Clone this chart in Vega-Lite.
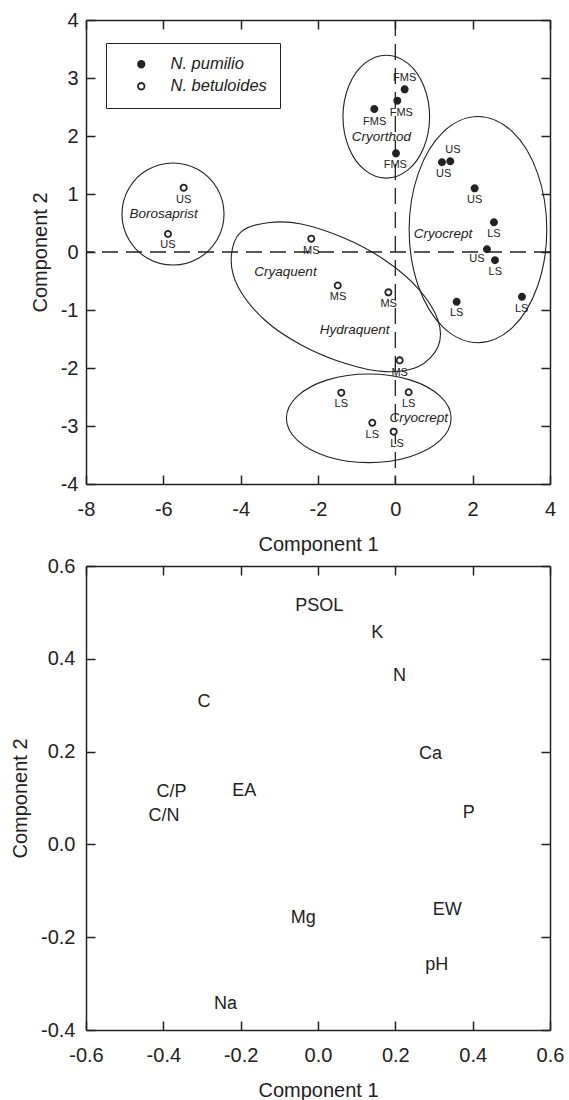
{
  "$schema": "https://vega.github.io/schema/vega-lite/v6.json",
  "background": "white",
  "padding": {"left": 10, "top": 10, "right": 10, "bottom": 0},
  "spacing": 2,
  "config": {
    "view": {"stroke": null},
    "font": "Liberation Sans",
    "locale": {"number": {"decimal": ".", "thousands": ",", "grouping": [3], "currency": ["$", ""], "minus": "-"}},
    "axis": {
      "grid": false,
      "domainColor": "#222",
      "domainWidth": 1.5,
      "tickColor": "#222",
      "tickWidth": 1.5,
      "tickSize": -9,
      "labelFont": "Liberation Sans",
      "labelFontSize": 20,
      "labelColor": "#222",
      "labelFlush": false,
      "labelOverlap": false,
      "titleFont": "Liberation Sans",
      "titleFontSize": 20,
      "titleFontWeight": "normal",
      "titleColor": "#222"
    }
  },
  "datasets": {
    "sites": [
      {"c1": 0.241, "c2": 2.805, "species": "N. pumilio", "site": "FMS"},
      {"c1": 0.051, "c2": 2.609, "species": "N. pumilio", "site": "FMS"},
      {"c1": -0.544, "c2": 2.466, "species": "N. pumilio", "site": "FMS"},
      {"c1": 0.017, "c2": 1.701, "species": "N. pumilio", "site": "FMS"},
      {"c1": 1.206, "c2": 1.547, "species": "N. pumilio", "site": "US"},
      {"c1": 1.421, "c2": 1.564, "species": "N. pumilio", "site": "US"},
      {"c1": 2.051, "c2": 1.098, "species": "N. pumilio", "site": "US"},
      {"c1": 2.551, "c2": 0.512, "species": "N. pumilio", "site": "LS"},
      {"c1": 2.37, "c2": 0.047, "species": "N. pumilio", "site": "US"},
      {"c1": 2.577, "c2": -0.143, "species": "N. pumilio", "site": "LS"},
      {"c1": 1.586, "c2": -0.857, "species": "N. pumilio", "site": "LS"},
      {"c1": 3.275, "c2": -0.771, "species": "N. pumilio", "site": "LS"},
      {"c1": -5.474, "c2": 1.109, "species": "N. betuloides", "site": "US"},
      {"c1": -5.88, "c2": 0.31, "species": "N. betuloides", "site": "US"},
      {"c1": -2.174, "c2": 0.23, "species": "N. betuloides", "site": "MS"},
      {"c1": -1.49, "c2": -0.578, "species": "N. betuloides", "site": "MS"},
      {"c1": -0.18, "c2": -0.695, "species": "N. betuloides", "site": "MS"},
      {"c1": 0.112, "c2": -1.868, "species": "N. betuloides", "site": "MS"},
      {"c1": -1.398, "c2": -2.425, "species": "N. betuloides", "site": "LS"},
      {"c1": 0.345, "c2": -2.419, "species": "N. betuloides", "site": "LS"},
      {"c1": -0.596, "c2": -2.943, "species": "N. betuloides", "site": "LS"},
      {"c1": -0.043, "c2": -3.098, "species": "N. betuloides", "site": "LS"}
    ],
    "siteLabels": [
      {"c1": 0.241, "c2": 2.995, "label": "FMS"},
      {"c1": 0.154, "c2": 2.402, "label": "FMS"},
      {"c1": -0.534, "c2": 2.247, "label": "FMS"},
      {"c1": 0.0, "c2": 1.505, "label": "FMS"},
      {"c1": 1.25, "c2": 1.35, "label": "US"},
      {"c1": 1.491, "c2": 1.759, "label": "US"},
      {"c1": 2.051, "c2": 0.897, "label": "US"},
      {"c1": 2.551, "c2": 0.305, "label": "LS"},
      {"c1": 2.111, "c2": -0.126, "label": "US"},
      {"c1": 2.584, "c2": -0.345, "label": "LS"},
      {"c1": 1.586, "c2": -1.057, "label": "LS"},
      {"c1": 3.267, "c2": -0.978, "label": "LS"},
      {"c1": -2.174, "c2": 0.017, "label": "MS"},
      {"c1": -1.483, "c2": -0.771, "label": "MS"},
      {"c1": -0.172, "c2": -0.897, "label": "MS"},
      {"c1": 0.112, "c2": -2.081, "label": "MS"},
      {"c1": -1.398, "c2": -2.626, "label": "LS"},
      {"c1": 0.345, "c2": -2.616, "label": "LS"},
      {"c1": -0.596, "c2": -3.15, "label": "LS"},
      {"c1": 0.043, "c2": -3.305, "label": "LS"},
      {"c1": -5.474, "c2": 0.897, "label": "US"},
      {"c1": -5.88, "c2": 0.121, "label": "US"}
    ],
    "soilLabels": [
      {"c1": -5.991, "c2": 0.65, "soil": "Borosaprist"},
      {"c1": -0.363, "c2": 1.988, "soil": "Cryorthod"},
      {"c1": 1.232, "c2": 0.305, "soil": "Cryocrept"},
      {"c1": -2.841, "c2": -0.34, "soil": "Cryaquent"},
      {"c1": -1.052, "c2": -1.345, "soil": "Hydraquent"},
      {"c1": 0.603, "c2": -2.867, "soil": "Cryocrept"}
    ],
    "origin": [{"c1": 0, "c2": 0}],
    "ellipses": [
      {"group": "Borosaprist", "i": 0, "c1": -4.43, "c2": 0.655},
      {"group": "Borosaprist", "i": 1, "c1": -4.607, "c2": 1.095},
      {"group": "Borosaprist", "i": 2, "c1": -5.09, "c2": 1.417},
      {"group": "Borosaprist", "i": 3, "c1": -5.75, "c2": 1.535},
      {"group": "Borosaprist", "i": 4, "c1": -6.41, "c2": 1.417},
      {"group": "Borosaprist", "i": 5, "c1": -6.893, "c2": 1.095},
      {"group": "Borosaprist", "i": 6, "c1": -7.07, "c2": 0.655},
      {"group": "Borosaprist", "i": 7, "c1": -6.893, "c2": 0.215},
      {"group": "Borosaprist", "i": 8, "c1": -6.41, "c2": -0.107},
      {"group": "Borosaprist", "i": 9, "c1": -5.75, "c2": -0.225},
      {"group": "Borosaprist", "i": 10, "c1": -5.09, "c2": -0.107},
      {"group": "Borosaprist", "i": 11, "c1": -4.607, "c2": 0.215},
      {"group": "Cryorthod", "i": 0, "c1": 0.886, "c2": 2.333},
      {"group": "Cryorthod", "i": 1, "c1": 0.736, "c2": 2.863},
      {"group": "Cryorthod", "i": 2, "c1": 0.326, "c2": 3.251},
      {"group": "Cryorthod", "i": 3, "c1": -0.234, "c2": 3.393},
      {"group": "Cryorthod", "i": 4, "c1": -0.794, "c2": 3.251},
      {"group": "Cryorthod", "i": 5, "c1": -1.204, "c2": 2.863},
      {"group": "Cryorthod", "i": 6, "c1": -1.354, "c2": 2.333},
      {"group": "Cryorthod", "i": 7, "c1": -1.204, "c2": 1.803},
      {"group": "Cryorthod", "i": 8, "c1": -0.794, "c2": 1.415},
      {"group": "Cryorthod", "i": 9, "c1": -0.234, "c2": 1.273},
      {"group": "Cryorthod", "i": 10, "c1": 0.326, "c2": 1.415},
      {"group": "Cryorthod", "i": 11, "c1": 0.736, "c2": 1.803},
      {"group": "Cryocrept upper", "i": 0, "c1": 3.917, "c2": 0.385},
      {"group": "Cryocrept upper", "i": 1, "c1": 3.678, "c2": 1.36},
      {"group": "Cryocrept upper", "i": 2, "c1": 3.027, "c2": 2.074},
      {"group": "Cryocrept upper", "i": 3, "c1": 2.137, "c2": 2.335},
      {"group": "Cryocrept upper", "i": 4, "c1": 1.247, "c2": 2.074},
      {"group": "Cryocrept upper", "i": 5, "c1": 0.596, "c2": 1.36},
      {"group": "Cryocrept upper", "i": 6, "c1": 0.357, "c2": 0.385},
      {"group": "Cryocrept upper", "i": 7, "c1": 0.596, "c2": -0.59},
      {"group": "Cryocrept upper", "i": 8, "c1": 1.247, "c2": -1.304},
      {"group": "Cryocrept upper", "i": 9, "c1": 2.137, "c2": -1.565},
      {"group": "Cryocrept upper", "i": 10, "c1": 3.027, "c2": -1.304},
      {"group": "Cryocrept upper", "i": 11, "c1": 3.678, "c2": -0.59},
      {"group": "Cryaquent-Hydraquent", "i": 0, "c1": -4.243, "c2": -0.081},
      {"group": "Cryaquent-Hydraquent", "i": 1, "c1": -3.984, "c2": 0.35},
      {"group": "Cryaquent-Hydraquent", "i": 2, "c1": -3.294, "c2": 0.505},
      {"group": "Cryaquent-Hydraquent", "i": 3, "c1": -2.432, "c2": 0.483},
      {"group": "Cryaquent-Hydraquent", "i": 4, "c1": -1.31, "c2": 0.236},
      {"group": "Cryaquent-Hydraquent", "i": 5, "c1": -0.276, "c2": -0.138},
      {"group": "Cryaquent-Hydraquent", "i": 6, "c1": 0.585, "c2": -0.626},
      {"group": "Cryaquent-Hydraquent", "i": 7, "c1": 1.103, "c2": -1.172},
      {"group": "Cryaquent-Hydraquent", "i": 8, "c1": 1.103, "c2": -1.633},
      {"group": "Cryaquent-Hydraquent", "i": 9, "c1": 0.585, "c2": -1.978},
      {"group": "Cryaquent-Hydraquent", "i": 10, "c1": -0.276, "c2": -2.063},
      {"group": "Cryaquent-Hydraquent", "i": 11, "c1": -1.31, "c2": -1.919},
      {"group": "Cryaquent-Hydraquent", "i": 12, "c1": -2.432, "c2": -1.603},
      {"group": "Cryaquent-Hydraquent", "i": 13, "c1": -3.379, "c2": -1.172},
      {"group": "Cryaquent-Hydraquent", "i": 14, "c1": -4.069, "c2": -0.598},
      {"group": "Cryocrept lower", "i": 0, "c1": 1.443, "c2": -2.867},
      {"group": "Cryocrept lower", "i": 1, "c1": 1.158, "c2": -2.485},
      {"group": "Cryocrept lower", "i": 2, "c1": 0.378, "c2": -2.205},
      {"group": "Cryocrept lower", "i": 3, "c1": -0.687, "c2": -2.103},
      {"group": "Cryocrept lower", "i": 4, "c1": -1.752, "c2": -2.205},
      {"group": "Cryocrept lower", "i": 5, "c1": -2.532, "c2": -2.485},
      {"group": "Cryocrept lower", "i": 6, "c1": -2.817, "c2": -2.867},
      {"group": "Cryocrept lower", "i": 7, "c1": -2.532, "c2": -3.249},
      {"group": "Cryocrept lower", "i": 8, "c1": -1.752, "c2": -3.529},
      {"group": "Cryocrept lower", "i": 9, "c1": -0.687, "c2": -3.631},
      {"group": "Cryocrept lower", "i": 10, "c1": 0.378, "c2": -3.529},
      {"group": "Cryocrept lower", "i": 11, "c1": 1.158, "c2": -3.249}
    ],
    "variables": [
      {"variable": "PSOL", "c1": 0.003, "c2": 0.514},
      {"variable": "K", "c1": 0.153, "c2": 0.455},
      {"variable": "N", "c1": 0.211, "c2": 0.362},
      {"variable": "C", "c1": -0.295, "c2": 0.306},
      {"variable": "Ca", "c1": 0.291, "c2": 0.195},
      {"variable": "C/P", "c1": -0.379, "c2": 0.114},
      {"variable": "EA", "c1": -0.191, "c2": 0.116},
      {"variable": "C/N", "c1": -0.398, "c2": 0.062},
      {"variable": "P", "c1": 0.39, "c2": 0.068},
      {"variable": "EW", "c1": 0.334, "c2": -0.142},
      {"variable": "Mg", "c1": -0.038, "c2": -0.158},
      {"variable": "pH", "c1": 0.307, "c2": -0.26},
      {"variable": "Na", "c1": -0.239, "c2": -0.343}
    ]
  },
  "vconcat": [
    {
      "width": 464,
      "height": 464,
      "resolve": {"axis": {"x": "independent", "y": "independent"}},
      "layer": [
        {
          "data": {"name": "ellipses"},
          "mark": {"type": "line", "interpolate": "cardinal-closed", "color": "#222", "strokeWidth": 1.1},
          "encoding": {
            "x": {"field": "c1", "type": "quantitative",
                  "scale": {"domain": [-8, 4], "nice": false, "zero": false},
                  "axis": {"values": [-8, -6, -4, -2, 0, 2, 4], "title": "Component 1", "labelPadding": 24, "titlePadding": 15}},
            "y": {"field": "c2", "type": "quantitative",
                  "scale": {"domain": [-4, 4], "nice": false, "zero": false},
                  "axis": {"values": [-4, -3, -2, -1, 0, 1, 2, 3, 4], "title": "Component 2", "labelPadding": 17, "titlePadding": 10}},
            "detail": {"field": "group"},
            "order": {"field": "i", "type": "quantitative"}
          }
        },
        {
          "data": {"name": "origin"},
          "mark": {"type": "rule", "color": "#222", "strokeWidth": 1.3, "strokeDash": [16, 8]},
          "encoding": {"y": {"field": "c2", "type": "quantitative", "axis": null}}
        },
        {
          "data": {"name": "origin"},
          "mark": {"type": "rule", "color": "#222", "strokeWidth": 1.3, "strokeDash": [16, 8]},
          "encoding": {"x": {"field": "c1", "type": "quantitative", "axis": null}}
        },
        {
          "data": {"name": "sites"},
          "mark": {"type": "point", "shape": "circle", "filled": true, "stroke": "#222", "strokeWidth": 1.8, "size": 38, "opacity": 1},
          "encoding": {
            "x": {"field": "c1", "type": "quantitative", "axis": null},
            "y": {"field": "c2", "type": "quantitative", "axis": null},
            "fill": {"field": "species", "type": "nominal",
                     "scale": {"domain": ["N. pumilio", "N. betuloides"], "range": ["#222", "white"]},
                     "legend": {"title": null, "orient": "none", "legendX": 20, "legendY": 23,
                                "strokeColor": "#222", "padding": 13, "fillColor": "white",
                                "labelFont": "Liberation Sans", "labelFontSize": 16.5, "labelFontStyle": "italic", "labelColor": "#222",
                                "symbolType": "circle", "symbolSize": 42, "symbolStrokeColor": "#222", "symbolStrokeWidth": 1.8,
                                "symbolOffset": 14, "labelOffset": 21, "rowPadding": 5}}
          }
        },
        {
          "data": {"name": "siteLabels"},
          "mark": {"type": "text", "font": "Liberation Sans", "fontSize": 11, "color": "#222", "baseline": "middle", "align": "center"},
          "encoding": {
            "x": {"field": "c1", "type": "quantitative", "axis": null},
            "y": {"field": "c2", "type": "quantitative", "axis": null},
            "text": {"field": "label"}
          }
        },
        {
          "data": {"name": "soilLabels"},
          "mark": {"type": "text", "font": "Liberation Sans", "fontSize": 13.5, "fontStyle": "italic", "color": "#222", "baseline": "middle", "align": "center"},
          "encoding": {
            "x": {"field": "c1", "type": "quantitative", "axis": null},
            "y": {"field": "c2", "type": "quantitative", "axis": null},
            "text": {"field": "soil"}
          }
        },
        {
          "data": {"name": "origin"},
          "mark": {"type": "point", "opacity": 0},
          "encoding": {
            "x": {"field": "c1", "type": "quantitative",
                  "axis": {"orient": "top", "values": [-8, -6, -4, -2, 0, 2, 4], "labels": false, "title": null}},
            "y": {"field": "c2", "type": "quantitative",
                  "axis": {"orient": "right", "values": [-4, -3, -2, -1, 0, 1, 2, 3, 4], "labels": false, "title": null}}
          }
        }
      ]
    },
    {
      "width": 464,
      "height": 464,
      "resolve": {"axis": {"x": "independent", "y": "independent"}},
      "layer": [
        {
          "data": {"name": "variables"},
          "mark": {"type": "text", "font": "Liberation Sans", "fontSize": 18, "color": "#222", "baseline": "middle", "align": "center"},
          "encoding": {
            "x": {"field": "c1", "type": "quantitative",
                  "scale": {"domain": [-0.6, 0.6], "nice": false, "zero": false},
                  "axis": {"values": [-0.6, -0.4, -0.2, 0, 0.2, 0.4, 0.6], "format": ".1f", "title": "Component 1", "labelPadding": 24, "titlePadding": 15}},
            "y": {"field": "c2", "type": "quantitative",
                  "scale": {"domain": [-0.4, 0.6], "nice": false, "zero": false},
                  "axis": {"values": [-0.4, -0.2, 0, 0.2, 0.4, 0.6], "format": ".1f", "title": "Component 2", "labelPadding": 20, "titlePadding": 10}},
            "text": {"field": "variable"}
          }
        },
        {
          "data": {"name": "variables"},
          "mark": {"type": "point", "opacity": 0},
          "encoding": {
            "x": {"field": "c1", "type": "quantitative",
                  "axis": {"orient": "top", "values": [-0.6, -0.4, -0.2, 0, 0.2, 0.4, 0.6], "labels": false, "title": null}},
            "y": {"field": "c2", "type": "quantitative",
                  "axis": {"orient": "right", "values": [-0.4, -0.2, 0, 0.2, 0.4, 0.6], "labels": false, "title": null}}
          }
        }
      ]
    }
  ]
}
